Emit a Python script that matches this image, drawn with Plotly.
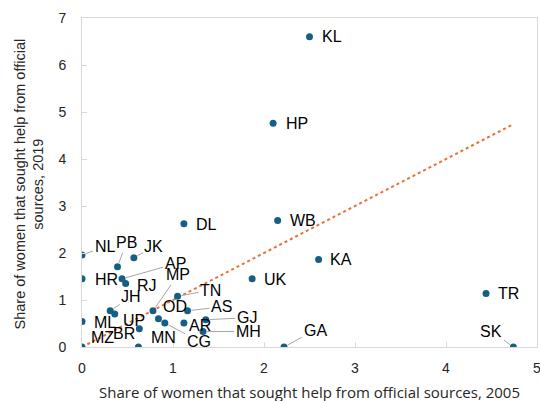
import plotly.graph_objects as go

# ---- data ----
states = ["KL", "HP", "DL", "WB", "KA", "UK", "TR", "SK", "GA", "NL", "HR", "ML", "MZ",
          "PB", "JK", "AP", "RJ", "JH", "UP", "BR", "MN", "MP", "TN", "AS", "OD", "CG",
          "AR", "GJ", "MH"]
share_2005 = [2.50, 2.10, 1.12, 2.15, 2.60, 1.87, 4.44, 4.74, 2.22, 0.00, 0.00, 0.00, 0.00,
              0.39, 0.57, 0.44, 0.48, 0.31, 0.36, 0.63, 0.62, 0.78, 1.05, 1.16, 0.84, 0.91,
              1.12, 1.36, 1.33]
share_2019 = [6.60, 4.76, 2.62, 2.69, 1.86, 1.45, 1.14, 0.00, 0.00, 1.96, 1.45, 0.54, 0.00,
              1.71, 1.90, 1.45, 1.35, 0.77, 0.70, 0.39, 0.00, 0.77, 1.08, 0.77, 0.60, 0.51,
              0.51, 0.58, 0.33]
x_ticks = [0, 1, 2, 3, 4, 5]
y_ticks = [0, 1, 2, 3, 4, 5, 6, 7]
x_title = "Share of women that sought help from official sources, 2005"
y_title = "Share of women that sought help from official<br>sources, 2019"

# ---- label placement (pixel offsets of label centre from its point) ----
label_offsets = {
    "KL": (22, 0), "HP": (24, 0), "DL": (23, 1), "WB": (25, 0), "KA": (22, 0),
    "UK": (23, 1), "TR": (22, 0), "SK": (-22, -16), "GA": (31, -17), "NL": (23, -8),
    "HR": (24, 1), "ML": (23, 1), "MZ": (20, -10), "PB": (9, -24), "JK": (20, -11),
    "AP": (53, -15), "RJ": (21, 2), "JH": (21, -14), "UP": (19, 6), "BR": (-15, 5),
    "MN": (25, -10), "MP": (25, -36), "TN": (33, -6), "AS": (34, -4), "OD": (17, -12),
    "CG": (34, 18), "AR": (16, 2), "GJ": (41, -2), "MH": (45, 0),
}
leader_labels = {"SK", "GA", "NL", "PB", "JK", "AP", "MP", "TN", "JH", "AS", "GJ", "MH", "CG"}

MARKER = "#156082"
TREND = "#E97132"
AXIS = "#d9d9d9"
FONT = "Liberation Sans"

fig = go.Figure()

# equality (45-degree) reference line across the data's x range
x_lo, x_hi = min(share_2005), max(share_2005)
fig.add_trace(go.Scatter(
    x=[x_lo, x_hi], y=[x_lo, x_hi], mode="lines",
    line=dict(color=TREND, width=2, dash="dot"), hoverinfo="skip", showlegend=False,
))

fig.add_trace(go.Scatter(
    x=share_2005, y=share_2019, mode="markers", text=states,
    marker=dict(color=MARKER, size=7), showlegend=False,
))

annotations = []
for s, xv, yv in zip(states, share_2005, share_2019):
    ax, ay = label_offsets[s]
    annotations.append(dict(
        x=xv, y=yv, xref="x", yref="y", text=s, showarrow=True,
        ax=ax, ay=ay, arrowhead=0, arrowwidth=1, standoff=4,
        arrowcolor="#a6a6a6" if s in leader_labels else "rgba(0,0,0,0)",
        font=dict(family=FONT, size=16, color="#000000"),
    ))

annotations.append(dict(
    text=x_title, xref="paper", yref="paper", x=0.5, y=0, yanchor="middle",
    yshift=-45, showarrow=False, font=dict(family="Open Sans", size=15, color="#262626"),
))
annotations.append(dict(
    text=y_title, xref="paper", yref="paper", x=0, y=0.5, xanchor="center",
    yanchor="middle", xshift=-53, yshift=-2, textangle=-90, showarrow=False,
    font=dict(family=FONT, size=14.5, color="#262626"),
))

fig.update_layout(
    width=540, height=401,
    margin=dict(l=82, r=3, t=18, b=54),
    paper_bgcolor="white", plot_bgcolor="white",
    annotations=annotations,
    font=dict(family=FONT, color="#262626"),
)
fig.update_xaxes(
    range=[0, 5], tickvals=x_ticks, showgrid=False, zeroline=False,
    showline=True, linecolor=AXIS, linewidth=1, mirror=True,
    ticks="inside", ticklen=5, tickcolor=AXIS, ticklabelstandoff=8,
    ticklabeloverflow="allow",
    tickfont=dict(family=FONT, size=14, color="#262626"), automargin=False,
)
fig.update_yaxes(
    range=[0, 7], tickvals=y_ticks, showgrid=False, zeroline=False,
    showline=True, linecolor=AXIS, linewidth=1, mirror=True,
    ticks="inside", ticklen=5, tickcolor=AXIS, ticklabelstandoff=12,
    ticklabeloverflow="allow",
    tickfont=dict(family=FONT, size=14, color="#262626"), automargin=False,
)

fig.write_html("out.html", config={"displayModeBar": False},
               post_script="document.body.style.margin='0px';")
